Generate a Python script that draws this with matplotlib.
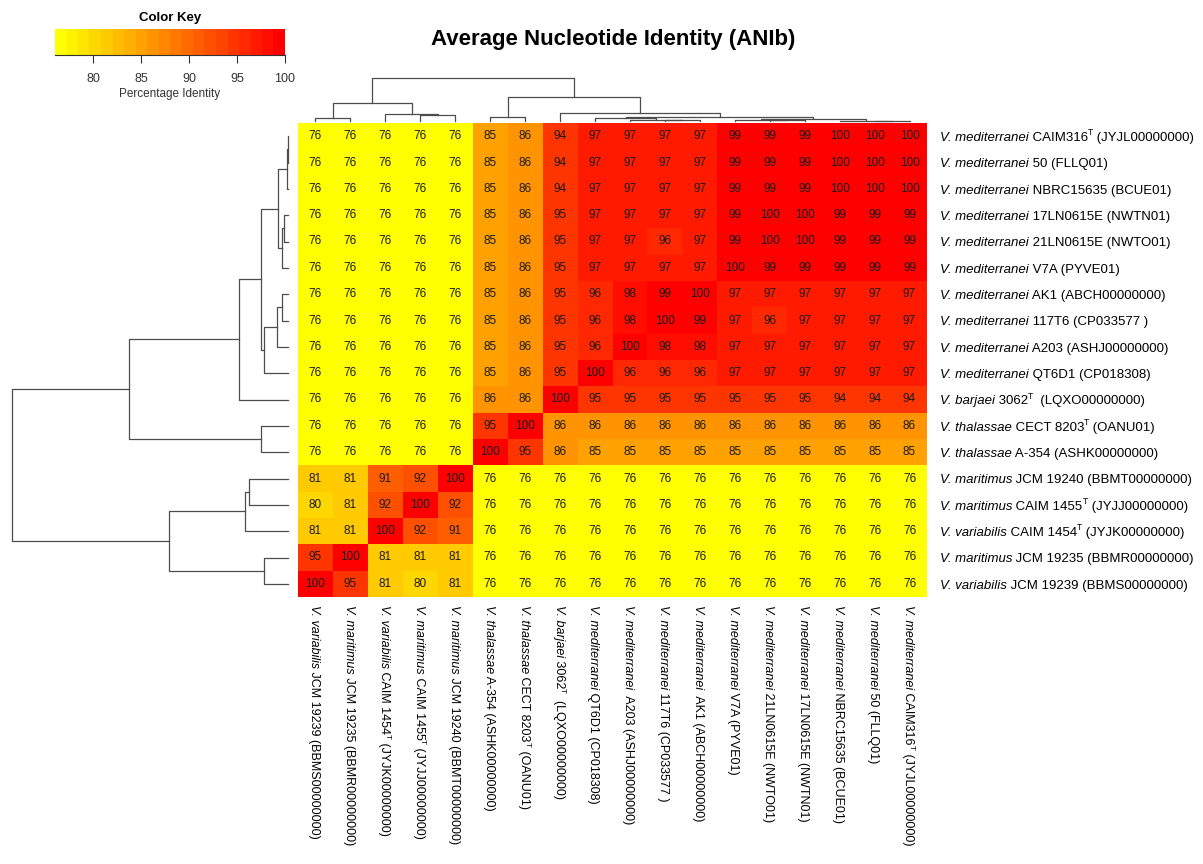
import numpy as np
import matplotlib
matplotlib.use("Agg")
import matplotlib.pyplot as plt
from matplotlib.colors import ListedColormap, BoundaryNorm, LinearSegmentedColormap
from matplotlib.transforms import offset_copy

plt.rcParams['font.family'] = ['Liberation Sans', 'DejaVu Sans']

# row labels, top to bottom ("^T" marks a superscript T)
row_species = ["V. mediterranei"] * 10 + ["V. barjaei", "V. thalassae", "V. thalassae",
               "V. maritimus", "V. maritimus", "V. variabilis", "V. maritimus", "V. variabilis"]
row_strains = ["CAIM316^T (JYJL00000000)", "50 (FLLQ01)", "NBRC15635 (BCUE01)",
               "17LN0615E (NWTN01)", "21LN0615E (NWTO01)", "V7A (PYVE01)",
               "AK1 (ABCH00000000)", "117T6 (CP033577 )", "A203 (ASHJ00000000)",
               "QT6D1 (CP018308)", "3062^T  (LQXO00000000)",
               "CECT 8203^T (OANU01)", "A-354 (ASHK00000000)",
               "JCM 19240 (BBMT00000000)", "CAIM 1455^T (JYJJ00000000)",
               "CAIM 1454^T (JYJK00000000)", "JCM 19235 (BBMR00000000)",
               "JCM 19239 (BBMS00000000)"]

# column labels, left to right
col_species = ["V. variabilis", "V. maritimus", "V. variabilis", "V. maritimus", "V. maritimus",
               "V. thalassae", "V. thalassae", "V. barjaei"] + ["V. mediterranei"] * 10
col_strains = ["JCM 19239 (BBMS00000000)", "JCM 19235 (BBMR00000000)",
               "CAIM 1454^T (JYJK00000000)", "CAIM 1455^T (JYJJ00000000)",
               "JCM 19240 (BBMT00000000)", "A-354 (ASHK00000000)",
               "CECT 8203^T (OANU01)", "3062^T  (LQXO00000000)",
               "QT6D1 (CP018308)", " A203 (ASHJ00000000)", "117T6 (CP033577 )",
               " AK1 (ABCH00000000)", "V7A (PYVE01)", "21LN0615E (NWTO01)",
               "17LN0615E (NWTN01)", "NBRC15635 (BCUE01)", "50 (FLLQ01)",
               "CAIM316^T (JYJL00000000)"]

# ANIb values (%), rows top->bottom, columns left->right
ani = [
    [76, 76, 76, 76, 76, 85, 86, 94, 97, 97, 97, 97, 99, 99, 99, 100, 100, 100],
    [76, 76, 76, 76, 76, 85, 86, 94, 97, 97, 97, 97, 99, 99, 99, 100, 100, 100],
    [76, 76, 76, 76, 76, 85, 86, 94, 97, 97, 97, 97, 99, 99, 99, 100, 100, 100],
    [76, 76, 76, 76, 76, 85, 86, 95, 97, 97, 97, 97, 99, 100, 100, 99, 99, 99],
    [76, 76, 76, 76, 76, 85, 86, 95, 97, 97, 96, 97, 99, 100, 100, 99, 99, 99],
    [76, 76, 76, 76, 76, 85, 86, 95, 97, 97, 97, 97, 100, 99, 99, 99, 99, 99],
    [76, 76, 76, 76, 76, 85, 86, 95, 96, 98, 99, 100, 97, 97, 97, 97, 97, 97],
    [76, 76, 76, 76, 76, 85, 86, 95, 96, 98, 100, 99, 97, 96, 97, 97, 97, 97],
    [76, 76, 76, 76, 76, 85, 86, 95, 96, 100, 98, 98, 97, 97, 97, 97, 97, 97],
    [76, 76, 76, 76, 76, 85, 86, 95, 100, 96, 96, 96, 97, 97, 97, 97, 97, 97],
    [76, 76, 76, 76, 76, 86, 86, 100, 95, 95, 95, 95, 95, 95, 95, 94, 94, 94],
    [76, 76, 76, 76, 76, 95, 100, 86, 86, 86, 86, 86, 86, 86, 86, 86, 86, 86],
    [76, 76, 76, 76, 76, 100, 95, 86, 85, 85, 85, 85, 85, 85, 85, 85, 85, 85],
    [81, 81, 91, 92, 100, 76, 76, 76, 76, 76, 76, 76, 76, 76, 76, 76, 76, 76],
    [80, 81, 92, 100, 92, 76, 76, 76, 76, 76, 76, 76, 76, 76, 76, 76, 76, 76],
    [81, 81, 100, 92, 91, 76, 76, 76, 76, 76, 76, 76, 76, 76, 76, 76, 76, 76],
    [95, 100, 81, 81, 81, 76, 76, 76, 76, 76, 76, 76, 76, 76, 76, 76, 76, 76],
    [100, 95, 81, 80, 81, 76, 76, 76, 76, 76, 76, 76, 76, 76, 76, 76, 76, 76],
]

# dendrogram merges: (left node, right node, height); node ids >= 18 are earlier merges
row_links = [(0, 1, 0.5), (18, 2, 1), (3, 4, 4), (20, 5, 6), (19, 21, 10),
             (6, 7, 6), (23, 8, 11), (24, 9, 24), (22, 25, 27), (26, 10, 49),
             (11, 12, 27), (27, 28, 159), (13, 14, 39), (30, 15, 43), (16, 17, 24),
             (31, 32, 119), (29, 33, 276)]
col_links = [(0, 1, 10), (3, 4, 19), (2, 19, 22), (18, 20, 55), (5, 6, 12),
             (10, 11, 2.5), (9, 23, 3), (8, 24, 9), (13, 14, 2), (12, 26, 3),
             (16, 17, 0.5), (15, 28, 0.8), (27, 29, 5), (25, 30, 13), (7, 31, 23),
             (22, 32, 72), (21, 33, 128)]

key_min, key_max, n_bins = 76, 100, 20
key_ticks = [80, 85, 90, 95, 100]

W, H = 1203, 864


def px_axes(fig, x0, y0, x1, y1):
    return fig.add_axes([x0 / W, 1 - y1 / H, (x1 - x0) / W, (y1 - y0) / H])


def draw_dendro(ax, links, n, side):
    pos = {i: i + 0.5 for i in range(n)}
    hgt = {i: 0.0 for i in range(n)}
    for k, (a, b, h) in enumerate(links):
        pa, pb = pos[a], pos[b]
        if side == 'top':
            ax.plot([pa, pa, pb, pb], [hgt[a], h, h, hgt[b]], color='#4d4d4d', lw=0.9, clip_on=False)
        else:
            ax.plot([hgt[a], h, h, hgt[b]], [pa, pa, pb, pb], color='#4d4d4d', lw=0.9, clip_on=False)
        pos[n + k] = (pa + pb) / 2
        hgt[n + k] = h
    ax.axis('off')


def segments(species, strain):
    segs = [(species, 'italic')]
    parts = (' ' + strain).split('^T')
    for k, p in enumerate(parts):
        if k > 0:
            segs.append(('T', 'sup'))
        if p:
            segs.append((p, 'normal'))
    return segs


def chain_label(ax, x, y, segs, fs, vertical, renderer):
    # draw the pieces one after another along a common baseline
    off = 0.0
    for txt, kind in segs:
        size = fs * 0.65 if kind == 'sup' else fs
        rise = fs * 0.42 * fig.dpi / 72 if kind == 'sup' else 0.0
        if vertical:
            tr = offset_copy(ax.transData, fig=fig, x=rise, y=-off, units='dots')
        else:
            tr = offset_copy(ax.transData, fig=fig, x=off, y=rise, units='dots')
        t = ax.text(x, y, txt, transform=tr, fontsize=size,
                    style='italic' if kind == 'italic' else 'normal',
                    ha='left', va='baseline', rotation=270 if vertical else 0,
                    rotation_mode='anchor')
        bb = t.get_window_extent(renderer)
        off += bb.height if vertical else bb.width


data = np.array(ani)
nr, nc = data.shape

base = LinearSegmentedColormap.from_list('yr', ['#FFFF00', '#FF0000'])
cmap = ListedColormap(base(np.linspace(0, 1, n_bins)))
bounds = np.linspace(key_min, key_max, n_bins + 1)
norm = BoundaryNorm(bounds, cmap.N, clip=True)

fig = plt.figure(figsize=(W / 100, H / 100), dpi=100)
renderer = fig.canvas.get_renderer()

# heatmap
ax = px_axes(fig, 298, 123, 927, 597)
ax.pcolormesh(np.arange(nc + 1), np.arange(nr + 1), data, cmap=cmap, norm=norm)
ax.set_xlim(0, nc)
ax.set_ylim(nr, 0)
ax.axis('off')
for i in range(nr):
    for j in range(nc):
        ax.text(j + 0.5, i + 0.5, str(data[i, j]), ha='center', va='center',
                fontsize=8.5, color='#1a1a1a')

for i in range(nr):
    chain_label(ax, nc + 0.37, i + 0.68, segments(row_species[i], row_strains[i]),
                9.5, False, renderer)
for j in range(nc):
    chain_label(ax, j + 0.37, nr + 0.3, segments(col_species[j], col_strains[j]),
                9, True, renderer)

# dendrograms
axr = px_axes(fig, 12, 123, 288, 597)
axr.set_xlim(276, 0)
axr.set_ylim(nr, 0)
draw_dendro(axr, row_links, nr, 'left')

axc = px_axes(fig, 298, 78, 927, 121)
axc.set_xlim(0, nc)
axc.set_ylim(0, 128)
draw_dendro(axc, col_links, nc, 'top')

# color key
axk = px_axes(fig, 55, 29, 285, 55)
centers = (bounds[:-1] + bounds[1:]) / 2
axk.pcolormesh(bounds, [0, 1], centers.reshape(1, -1), cmap=cmap, norm=norm)
axk.set_xlim(key_min, key_max)
axk.set_ylim(0, 1)
axk.set_yticks([])
for s in ['top', 'left', 'right']:
    axk.spines[s].set_visible(False)
axk.spines['bottom'].set_color('#333333')
axk.set_xticks(key_ticks)
axk.tick_params(axis='x', length=6, labelsize=9, colors='#333333', pad=7)
axk.set_xlabel('Percentage Identity', fontsize=8.5, color='#333333', labelpad=2)
axk.set_title('Color Key', fontsize=9.5, fontweight='bold', pad=6)

fig.text(613 / W, 1 - 40 / H, 'Average Nucleotide Identity (ANIb)', ha='center', va='center',
         fontsize=16, fontweight='bold')

fig.savefig('out.png', dpi=100)
